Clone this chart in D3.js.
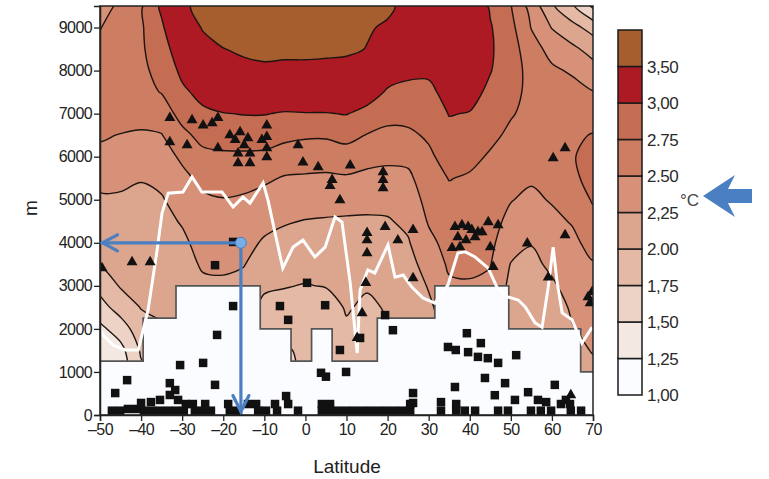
<!DOCTYPE html>
<html><head><meta charset="utf-8">
<script src="https://cdn.jsdelivr.net/npm/d3@7"></script>
<style>
body{margin:0;background:#fff;}
svg{display:block;font-family:"Liberation Sans",Arial,sans-serif;}
</style>
</head><body>
<svg id="chart" width="769" height="479"></svg>
<script>
// ---------------- DATA ----------------
const gridLats = [-50,-45,-40,-35,-30,-25,-20,-15,-10,-5,0,5,10,15,20,25,30,35,40,45,50,55,60,65,70];
const gridElevs = [9500,9000,8500,8000,7500,7000,6500,6000,5500,5000,4500,4000,3500,3000,2500,2000,1500,1000,500,0];
// warming (°C), one list per latitude, from 9500 m down to 0 m
const tempByLat = [
  [2.42,2.49,2.56,2.62,2.62,2.58,2.53,2.43,2.31,2.22,2.15,2.08,2.01,1.84,1.65,1.44,1.30,1.24,1.20,1.20],
  [2.54,2.62,2.66,2.68,2.68,2.63,2.49,2.40,2.30,2.22,2.18,2.12,2.07,2.02,1.86,1.62,1.42,1.35,1.30,1.30],
  [2.72,2.72,2.72,2.71,2.68,2.62,2.46,2.36,2.26,2.21,2.17,2.13,2.09,2.05,2.01,1.90,1.78,1.70,1.65,1.60],
  [3.05,2.96,2.88,2.81,2.76,2.63,2.49,2.40,2.31,2.23,2.18,2.14,2.10,2.06,2.03,1.98,1.90,1.80,1.75,1.70],
  [3.40,3.30,3.17,3.06,2.95,2.83,2.69,2.54,2.44,2.36,2.27,2.20,2.15,2.10,2.05,1.99,1.95,1.90,1.90,1.90],
  [3.65,3.52,3.40,3.24,3.08,2.95,2.82,2.69,2.56,2.46,2.40,2.34,2.28,2.20,2.15,2.10,2.05,1.98,1.96,1.96],
  [3.82,3.68,3.49,3.38,3.20,2.99,2.85,2.71,2.60,2.49,2.42,2.36,2.30,2.20,2.15,2.10,2.05,2.02,2.01,2.01],
  [3.90,3.75,3.56,3.40,3.20,3.01,2.86,2.71,2.58,2.47,2.40,2.33,2.26,2.18,2.10,2.05,2.02,2.01,2.01,2.01],
  [3.95,3.78,3.60,3.43,3.22,3.01,2.86,2.70,2.54,2.42,2.32,2.22,2.13,2.03,1.95,1.88,1.80,1.75,1.72,1.72],
  [3.92,3.75,3.58,3.42,3.20,2.98,2.81,2.64,2.48,2.37,2.27,2.17,2.09,2.01,1.93,1.85,1.72,1.70,1.68,1.68],
  [3.90,3.74,3.58,3.42,3.20,2.99,2.78,2.62,2.47,2.36,2.24,2.16,2.08,1.99,1.92,1.85,1.80,1.78,1.76,1.76],
  [3.88,3.72,3.56,3.42,3.20,2.99,2.78,2.61,2.46,2.34,2.23,2.15,2.08,2.01,1.90,1.80,1.77,1.76,1.76,1.76],
  [3.82,3.66,3.56,3.38,3.18,3.01,2.82,2.65,2.47,2.34,2.22,2.18,2.12,2.07,2.02,1.97,1.92,1.90,1.90,1.90],
  [3.62,3.53,3.49,3.32,3.13,2.92,2.74,2.58,2.44,2.32,2.22,2.16,2.09,2.02,1.96,1.92,1.90,1.90,1.90,1.90],
  [3.56,3.46,3.30,3.12,2.97,2.83,2.69,2.55,2.43,2.32,2.23,2.18,2.13,2.08,2.02,1.98,1.95,1.95,1.95,1.95],
  [3.40,3.30,3.17,3.05,2.94,2.82,2.71,2.56,2.45,2.37,2.30,2.23,2.15,2.09,2.03,1.98,1.95,1.95,1.95,1.95],
  [3.30,3.22,3.12,3.03,2.96,2.86,2.78,2.71,2.64,2.58,2.52,2.44,2.37,2.27,2.20,2.15,2.10,2.10,2.10,2.10],
  [3.20,3.17,3.14,3.10,3.06,3.01,2.93,2.84,2.76,2.68,2.63,2.58,2.53,2.47,2.40,2.35,2.30,2.30,2.30,2.30],
  [3.20,3.18,3.15,3.12,3.08,2.99,2.92,2.82,2.72,2.67,2.62,2.58,2.54,2.48,2.42,2.38,2.35,2.35,2.35,2.35],
  [2.97,3.02,3.03,3.01,2.95,2.88,2.81,2.72,2.66,2.62,2.58,2.55,2.51,2.45,2.40,2.36,2.33,2.33,2.33,2.33],
  [2.76,2.82,2.86,2.87,2.83,2.77,2.70,2.63,2.57,2.51,2.44,2.35,2.24,2.19,2.14,2.10,2.05,2.02,2.02,2.02],
  [2.40,2.49,2.60,2.66,2.68,2.68,2.66,2.60,2.53,2.45,2.37,2.26,2.20,2.15,2.12,2.10,2.05,2.02,2.02,2.02],
  [2.03,2.24,2.42,2.54,2.60,2.64,2.66,2.65,2.60,2.52,2.44,2.36,2.29,2.22,2.15,2.10,2.07,2.05,2.05,2.05],
  [1.78,2.08,2.30,2.47,2.58,2.66,2.72,2.74,2.72,2.62,2.52,2.44,2.38,2.33,2.28,2.24,2.20,2.15,2.10,2.10],
  [1.45,1.90,2.16,2.34,2.51,2.66,2.76,2.80,2.80,2.77,2.68,2.59,2.48,2.42,2.36,2.30,2.26,2.20,2.15,2.10]
];
const levelValues = [1.25,1.5,1.75,2.0,2.25,2.5,2.75,3.0,3.5];
const bandColors = ["#fbfcff","#f4e8e2","#edd3c6","#e4b9a6","#dca58e","#d69178","#cd7d62","#c56d52","#ae1a23","#a65e2f"];
const colorbarLabels = ["1,00","1,25","1,50","1,75","2.00","2,25","2.50","2.75","3,00","3,50"];

// terrain (stepped top of the masked area)
const terrainLat = [-50,-39.5,-31.5,-11,-3.5,1.5,6.5,17.5,31.5,49.5,67,70];
const terrainTop = [1250,2250,3000,2000,1250,2000,1250,2250,3000,2000,1000,1000];

// white line
const lineLat  = [-50,-49.3,-46.8,-43.9,-40.7,-38.3,-36.1,-34.9,-33.4,-29.8,-27.6,-25.2,-20.3,-17.6,-15.2,-13.5,-10.3,-9.1,-7.4,-5.5,-3.0,-0.6,2.3,4.8,7.2,8.9,10.9,12.6,13.3,15.2,16.9,20.1,21.8,23.8,25.9,28.6,31.5,34.7,37.1,38.9,41.3,44.5,46.6,49.3,51.8,53.5,55.9,57.6,59.1,60.3,61.2,62.5,64.9,67.3,69.8];
const lineElev = [2020,1860,1625,1510,1510,2440,3830,4690,5150,5180,5530,5180,5180,4830,5060,4920,5390,4990,4230,3410,3900,4060,3670,3900,4600,4480,3070,1440,2900,3370,3300,3950,3200,3250,2970,2720,2600,3020,3760,3790,3670,3410,2970,2740,2670,2510,2140,2040,2970,3900,3130,2370,2210,1670,2040];

// triangles
const triLat  = [-33.0,-27.6,-24.9,-22.7,-21.3,-33.0,-28.8,-21.3,-18.4,-15.9,-14.0,-16.4,-13.5,-16.4,-13.5,-17.1,-14.9,-9.4,-9.4,-9.4,-9.4,-10.6,-1.8,-0.6,3.1,10.9,6.5,6.0,8.4,18.9,18.9,18.9,60.3,63.2,15.0,15.0,15.0,19.4,22.5,26.2,26.2,14.7,13.8,12.6,36.4,38.1,39.6,40.5,42.0,37.1,39.1,41.3,43.0,35.7,37.6,45.0,45.7,46.9,44.5,54.0,59.1,63.2,68.8,69.8,69.3,64.6,-42.2,-37.8,-49.5];
const triElev = [6900,6850,6730,6780,6900,6340,6270,6200,6500,6570,6430,6080,6080,5850,5850,6390,6270,6730,6460,6200,5990,6390,6270,5870,5760,5800,5460,5320,4990,5640,5460,5270,5970,6200,4230,4060,3760,4370,4060,4300,3180,3070,2370,1790,4370,4410,4370,4300,4250,4130,4060,4130,4250,3880,3900,3900,3440,4410,4480,3990,3200,4180,2740,2860,2600,465,3550,3550,3410];

// squares
const sqLat  = [-22.0,-17.6,-17.6,-21.5,-30.5,-24.9,-43.4,-22.0,-33.0,-46.3,-6.2,-4.2,0.4,4.8,19.4,21.3,13.3,8.4,3.8,5.0,9.9,39.3,34.7,36.6,39.6,42.7,42.0,44.4,46.9,51.3,43.7,36.4,48.6,46.1,51.0,54.2,60.7,56.6,58.6,64.4,26.2,26.2,33.0,
  -47.1,-45.1,-43.2,-41.2,-40.0,-39.3,-37.6,-37.3,-35.4,-35.4,-33.4,-33.0,-31.7,-31.0,-31.5,-29.6,-29.1,-27.4,-26.9,-24.9,-24.4,-23.0,-18.8,-18.4,-16.4,-14.0,-12.0,-11.5,-9.6,-7.4,-6.9,-4.7,-4.2,-1.8,4.0,4.0,6.0,6.0,7.9,9.9,11.8,13.8,15.7,17.7,19.6,21.6,23.5,25.5,25.5,33.0,36.7,36.7,38.8,41.3,46.9,49.3,54.9,57.3,59.8,62.2,64.6,67.1,63.4];
const sqElev = [3480,4020,2530,1860,1160,1210,810,700,740,510,2530,2210,3070,2550,2320,1970,1790,1510,980,890,1000,1900,1580,1510,1460,1670,1350,1320,1210,1390,860,650,740,460,350,530,700,350,300,255,510,280,300,
  100,100,140,140,280,100,300,100,350,100,100,465,580,350,100,100,255,255,100,100,255,100,255,100,100,255,255,100,100,255,100,440,255,100,255,100,255,100,100,100,100,100,100,100,100,100,100,100,255,100,255,100,100,100,100,100,100,100,100,255,100,100,350];

const xTicks = [-50,-40,-30,-20,-10,0,10,20,30,40,50,60,70];
const yTicks = [0,1000,2000,3000,4000,5000,6000,7000,8000,9000];
const marker = {lat:-15.7, elev:4000};

// ---------------- LAYOUT ----------------
const svg = d3.select("#chart");
const L = 100, R = 593, T = 6, B = 415;
const x = d3.scaleLinear().domain([-50,70]).range([L,R]);
const y = d3.scaleLinear().domain([0,9500]).range([B,T]);

svg.append("defs").append("clipPath").attr("id","plotclip")
  .append("rect").attr("x",L).attr("y",T).attr("width",R-L).attr("height",B-T);

const plot = svg.append("g").attr("clip-path","url(#plotclip)");

// contour field
const nx = gridLats.length, ny = gridElevs.length;
const values = new Array(nx*ny);
for (let j=0;j<ny;j++) for (let i=0;i<nx;i++) values[i + j*nx] = tempByLat[i][j];
const contours = d3.contours().size([nx,ny]).thresholds(levelValues)(values);
const latStep = gridLats[1]-gridLats[0], elevStep = gridElevs[0]-gridElevs[1];
const gx = px => x(gridLats[0] + (px-0.5)*latStep);
const gy = py => y(gridElevs[0] - (py-0.5)*elevStep);
const ringLine = d3.line().curve(d3.curveCatmullRomClosed.alpha(0.5));
function contourPath(c){
  let s = "";
  c.coordinates.forEach(poly => poly.forEach(ring => {
    const pts = ring.slice(0, ring.length-1).map(p => [gx(p[0]), gy(p[1])]);
    if (pts.length > 2) s += ringLine(pts);
  }));
  return s;
}

plot.append("rect").attr("x",L).attr("y",T).attr("width",R-L).attr("height",B-T).attr("fill",bandColors[0]);
plot.selectAll("path.band").data(contours).join("path").attr("class","band")
  .attr("d",contourPath).attr("fill-rule","evenodd").attr("fill",(d,i)=>bandColors[i+1]).attr("stroke","none");
plot.selectAll("path.iso").data(contours).join("path").attr("class","iso")
  .attr("d",contourPath).attr("fill","none").attr("stroke","#1c1410").attr("stroke-width",1.4);

// terrain mask
const terrainPts = terrainLat.map((d,i)=>[d, terrainTop[i]]);
const area = d3.area().curve(d3.curveStepAfter).x(d=>x(d[0])).y0(y(0)).y1(d=>y(d[1]));
const topLine = d3.line().curve(d3.curveStepAfter).x(d=>x(d[0])).y(d=>y(d[1]));
plot.append("path").attr("d",area(terrainPts)).attr("fill","#fbfcff");
plot.append("path").attr("d",topLine(terrainPts)).attr("fill","none").attr("stroke","#555").attr("stroke-width",1.7);

// white line
const wl = d3.line().x(d=>x(d[0])).y(d=>y(d[1]));
plot.append("path").attr("d",wl(lineLat.map((d,i)=>[d,lineElev[i]])))
  .attr("fill","none").attr("stroke","#ffffff").attr("stroke-width",3).attr("stroke-linejoin","miter");

// triangles
const triSym = d3.symbol().type(d3.symbolTriangle).size(52);
plot.selectAll("path.tri").data(triLat.map((d,i)=>[d,triElev[i]])).join("path").attr("class","tri")
  .attr("d",triSym).attr("transform",d=>`translate(${x(d[0])},${y(d[1])})`).attr("fill","#111");
// squares
const sq = 8.5;
plot.selectAll("rect.sq").data(sqLat.map((d,i)=>[d,sqElev[i]])).join("rect").attr("class","sq")
  .attr("x",d=>x(d[0])-sq/2).attr("y",d=>y(d[1])-sq/2).attr("width",sq).attr("height",sq).attr("fill","#111");

// frame + axes
svg.append("rect").attr("x",L).attr("y",T).attr("width",R-L).attr("height",B-T)
  .attr("fill","none").attr("stroke","#222").attr("stroke-width",1.5);
const ax = svg.append("g").attr("transform",`translate(0,${B})`)
  .call(d3.axisBottom(x).tickValues(xTicks).tickSize(6).tickPadding(3).tickFormat(d3.format("d")));
const ay = svg.append("g").attr("transform",`translate(${L},0)`)
  .call(d3.axisLeft(y).tickValues(yTicks).tickSize(6).tickPadding(2).tickFormat(d3.format("d")));
[ax,ay].forEach(g=>{
  g.select(".domain").attr("stroke","#222").attr("stroke-width",1.5);
  g.selectAll(".tick line").attr("stroke","#222").attr("stroke-width",1.3);
  g.selectAll(".tick text").attr("fill","#222").style("font-size","16px").style("letter-spacing","-0.6px");
});
ax.selectAll(".tick text").text(d=> d<0 ? "\u2013"+Math.abs(d) : d);

svg.append("text").attr("x",347).attr("y",473).attr("text-anchor","middle")
  .style("font-size","19px").attr("fill","#222").text("Latitude");
svg.append("text").attr("transform","translate(37,208) rotate(-90)").attr("text-anchor","middle")
  .style("font-size","19px").attr("fill","#222").text("m");

// blue annotation arrows
const blue = "#4a7fc2";
const mx = x(marker.lat), my = y(marker.elev);
const ann = svg.append("g").attr("stroke",blue).attr("stroke-width",3.2).attr("fill","none").attr("stroke-linecap","round");
ann.append("line").attr("x1",mx).attr("y1",my).attr("x2",x(-49.4)).attr("y2",my);
ann.append("polyline").attr("points",`${x(-49.4)+15},${my-8} ${x(-49.4)},${my} ${x(-49.4)+15},${my+8}`);
ann.append("line").attr("x1",mx).attr("y1",my).attr("x2",mx).attr("y2",y(80));
ann.append("polyline").attr("points",`${mx-8},${y(80)-16} ${mx},${y(80)} ${mx+8},${y(80)-16}`);
svg.append("circle").attr("cx",mx).attr("cy",my).attr("r",5.5).attr("fill","#78aee8").attr("stroke","#4a7fc2").attr("stroke-width",1);

// colorbar
const cbX = 618, cbW = 24, cbTop = 30, cbBot = 395;
const cb = d3.scaleLinear().domain([0,bandColors.length]).range([cbBot,cbTop]);
const cbg = svg.append("g");
cbg.selectAll("rect").data(bandColors).join("rect")
  .attr("x",cbX).attr("y",(d,i)=>cb(i+1)).attr("width",cbW).attr("height",(d,i)=>cb(i)-cb(i+1))
  .attr("fill",d=>d).attr("stroke","#1a1a1a").attr("stroke-width",1.5);
cbg.selectAll("text").data(colorbarLabels).join("text")
  .attr("x",cbX+cbW+5).attr("y",(d,i)=>cb(i)).attr("dy","0.36em")
  .style("font-size","17px").style("letter-spacing","-0.5px").attr("fill","#2a2a2a").text(d=>d);
svg.append("text").attr("x",680).attr("y",206).style("font-size","17px").attr("fill","#444").text("°C");
// big arrow pointing at the colorbar
const ay0 = 196;
svg.append("path").attr("fill",blue)
  .attr("d",`M703,${ay0} L735,${ay0-21} L728,${ay0-7} L752,${ay0-7} L752,${ay0+7} L728,${ay0+7} L735,${ay0+21} Z`);
</script>
</body></html>
